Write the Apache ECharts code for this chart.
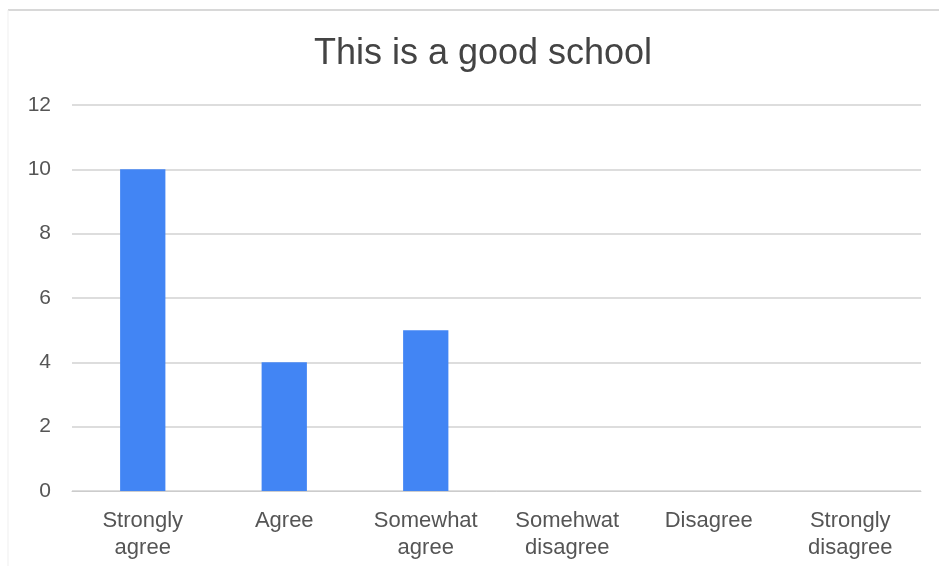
<!DOCTYPE html>
<html>
<head>
<meta charset="utf-8">
<script src="https://cdn.jsdelivr.net/npm/echarts@6/dist/echarts.min.js"></script>
<style>
  html, body { margin: 0; padding: 0; background: #fff; }
  #chart { width: 939px; height: 566px; }
</style>
</head>
<body>
<div id="chart"></div>
<script>
const categories = ["Strongly\nagree", "Agree", "Somewhat\nagree", "Somehwat\ndisagree", "Disagree", "Strongly\ndisagree"];
const counts = [10, 4, 5, 0, 0, 0];
const titleText = "This is a good school";

const chart = echarts.init(document.getElementById("chart"));

const option = {
  animation: false,
  backgroundColor: "#fff",
  textStyle: { fontFamily: "Liberation Sans, Arial, sans-serif" },
  title: {
    text: titleText,
    left: 478,
    top: 31,
    textAlign: "center",
    textStyle: { color: "#444", fontSize: 36, fontWeight: "normal" }
  },
  graphic: [
    { type: "line", shape: { x1: 8, y1: 10, x2: 939, y2: 10 }, style: { stroke: "#d8d8d8", lineWidth: 2 } },
    { type: "line", shape: { x1: 8, y1: 10, x2: 8, y2: 566 }, style: { stroke: "#efefef", lineWidth: 1 } }
  ],
  grid: { left: 72, right: 18, top: 105, bottom: 75 },
  xAxis: {
    type: "category",
    data: categories,
    axisLine: { lineStyle: { color: "#ccc", width: 1 } },
    axisTick: { show: false },
    axisLabel: { color: "#555", fontSize: 22, lineHeight: 27, margin: 16, interval: 0 }
  },
  yAxis: {
    type: "value",
    min: 0,
    max: 12,
    interval: 2,
    axisLine: { show: false },
    axisTick: { show: false },
    axisLabel: { color: "#555", fontSize: 21, margin: 21 },
    splitLine: { lineStyle: { color: "#ddd", width: 2 } }
  },
  series: [
    {
      type: "bar",
      data: counts,
      barWidth: "32%",
      itemStyle: { color: "#4285f4" }
    }
  ]
};

chart.setOption(option);
</script>
</body>
</html>
